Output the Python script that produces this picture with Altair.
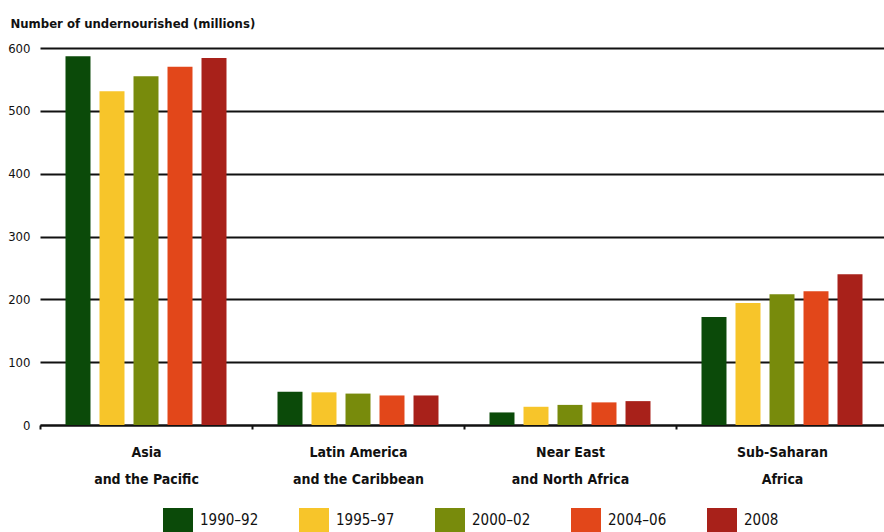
import altair as alt
import pandas as pd

regions = [
    "Asia\nand the Pacific",
    "Latin America\nand the Caribbean",
    "Near East\nand North Africa",
    "Sub-Saharan\nAfrica",
]
periods = ["1990–92", "1995–97", "2000–02", "2004–06", "2008"]
asia_pacific = [587, 531, 555, 570, 584]
latin_america = [53, 52, 50, 47, 47]
near_east = [20, 29, 32, 36, 38]
sub_saharan = [172, 194, 208, 213, 240]
colors = ["#0b4a09", "#f7c52a", "#788b0c", "#e2471a", "#a8211a"]

series = [asia_pacific, latin_america, near_east, sub_saharan]
rows = []
for reg, vals in zip(regions, series):
    for per, v in zip(periods, vals):
        rows.append({"region": reg, "period": per, "value": v})
df = pd.DataFrame(rows)

font = "Liberation Sans Narrow, DejaVu Sans Condensed, Arial Narrow, sans-serif"
ink = "#111111"

chart = alt.Chart(df).mark_bar().encode(
    x=alt.X(
        "region:N",
        sort=regions,
        scale=alt.Scale(range=[0, 848], paddingInner=0, paddingOuter=0),
        axis=alt.Axis(
            title=None,
            labelAngle=0,
            labelExpr="split(datum.label, '\\n')",
            labelFont=font,
            labelFontSize=14,
            labelFontWeight="bold",
            labelColor=ink,
            labelLineHeight=27,
            labelBaseline="alphabetic",
            labelPadding=27,
            ticks=True,
            tickSize=4,
            tickWidth=2,
            tickColor=ink,
            tickOffset=-106,
            labelOffset=106,
            domainColor=ink,
            domainWidth=2,
            grid=False,
        ),
    ),
    xOffset=alt.XOffset(
        "period:N", sort=periods,
        scale=alt.Scale(paddingInner=0.265, paddingOuter=0.75),
    ),
    y=alt.Y(
        "value:Q",
        scale=alt.Scale(domain=[0, 600]),
        axis=alt.Axis(
            values=[0, 100, 200, 300, 400, 500, 600],
            title="Number of undernourished (millions)",
            titleAngle=0,
            titleX=-30,
            titleY=-21,
            titleAlign="left",
            titleBaseline="alphabetic",
            titleFont=font,
            titleFontSize=13,
            titleFontWeight="bold",
            titleColor=ink,
            labelFont=font,
            labelFontSize=13,
            labelColor=ink,
            labelPadding=10,
            ticks=False,
            domain=False,
            grid=True,
            gridColor=ink,
            gridWidth=2,
        ),
    ),
    color=alt.Color(
        "period:N",
        sort=periods,
        scale=alt.Scale(domain=periods, range=colors),
        legend=alt.Legend(
            title=None,
            orient="none",
            legendX=123,
            legendY=457,
            direction="horizontal",
            columns=5,
            gridAlign="all",
            columnPadding=40,
            symbolType="M-1,-0.8H1V0.8H-1Z",
            symbolSize=900,
            symbolOpacity=1,
            symbolStrokeWidth=0,
            labelFont=font,
            labelFontSize=15,
            labelOffset=7,
            labelColor=ink,
            padding=0,
        ),
    ),
).properties(
    width=844,
    height=377,
    autosize=alt.AutoSizeParams(type="none"),
    padding={"left": 40, "top": 48, "right": 0, "bottom": 107},
    background="white",
).configure_view(stroke=None)

chart.save("out.html", embed_options={"renderer": "svg", "actions": False})
